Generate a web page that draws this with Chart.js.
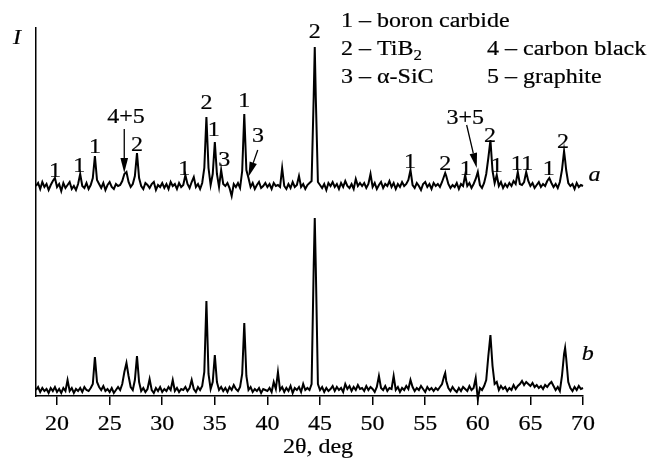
<!DOCTYPE html>
<html>
<head>
<meta charset="utf-8">
<script src="https://cdn.jsdelivr.net/npm/chart.js@4/dist/chart.umd.min.js"></script>
<style>
html,body{margin:0;padding:0;background:#fff;}
canvas{display:block;}
</style>
</head>
<body>
<canvas id="c" width="654" height="461"></canvas>
<script>
// 2θ sample positions (deg)
const theta = [
18.0,18.2,18.4,18.6,18.8, 19.0,19.2,19.4,19.6,19.8,
20.0,20.2,20.4,20.6,20.8, 21.0,21.2,21.4,21.6,21.8,
22.0,22.2,22.4,22.6,22.8, 23.0,23.2,23.4,23.6,23.8,
24.0,24.2,24.4,24.6,24.8, 25.0,25.2,25.4,25.6,25.8,
26.0,26.2,26.4,26.6,26.8, 27.0,27.2,27.4,27.6,27.8,
28.0,28.2,28.4,28.6,28.8, 29.0,29.2,29.4,29.6,29.8,
30.0,30.2,30.4,30.6,30.8, 31.0,31.2,31.4,31.6,31.8,
32.0,32.2,32.4,32.6,32.8, 33.0,33.2,33.4,33.6,33.8,
34.0,34.2,34.4,34.6,34.8, 35.0,35.2,35.4,35.6,35.8,
36.0,36.2,36.4,36.6,36.8, 37.0,37.2,37.4,37.6,37.8,
38.0,38.2,38.4,38.6,38.8, 39.0,39.2,39.4,39.6,39.8,
40.0,40.2,40.4,40.6,40.8, 41.0,41.2,41.4,41.6,41.8,
42.0,42.2,42.4,42.6,42.8, 43.0,43.2,43.4,43.6,43.8,
44.0,44.2,44.4,44.5,44.6,44.8, 45.0,45.2,45.4,45.6,45.8,
46.0,46.2,46.4,46.6,46.8, 47.0,47.2,47.4,47.6,47.8,
48.0,48.2,48.4,48.6,48.8, 49.0,49.2,49.4,49.6,49.8,
50.0,50.2,50.4,50.6,50.8, 51.0,51.2,51.4,51.6,51.8,
52.0,52.2,52.4,52.6,52.8, 53.0,53.2,53.4,53.6,53.8,
54.0,54.2,54.4,54.6,54.8, 55.0,55.2,55.4,55.6,55.8,
56.0,56.2,56.4,56.6,56.8,56.9, 57.0,57.2,57.4,57.6,57.8,
58.0,58.2,58.4,58.6,58.8, 59.0,59.2,59.4,59.6,59.8,
60.0,60.2,60.4,60.6,60.8, 61.0,61.2,61.4,61.6,61.8,
62.0,62.2,62.4,62.6,62.8, 63.0,63.2,63.4,63.6,63.8,
64.0,64.2,64.4,64.6,64.8, 65.0,65.2,65.4,65.6,65.8,
66.0,66.2,66.4,66.6,66.8, 67.0,67.2,67.4,67.6,67.8,
68.0,68.2,68.3,68.4,68.6,68.8, 69.0,69.2,69.4,69.6,69.8,
70.0
];

// pattern a (intensity, arbitrary units, curve shifted up)
const intensityA = [
210,213,207,214,209, 212,206,211,215,218,
209,212,205,213,208, 211,214,207,210,206,
212,222,210,208,213, 207,211,218,240,216,
212,208,213,206,211, 214,209,207,212,210,
211,215,222,224,214, 209,212,220,243,218,
210,207,213,211,208, 212,214,206,211,209,
213,208,212,207,214, 210,212,207,213,209,
211,221,212,208,214, 219,209,212,207,213,
228,279,228,211,222, 254,222,209,226,212,
210,213,208,200,212, 209,213,208,225,282,
226,218,209,213,207, 211,214,208,210,213,
209,212,207,213,210, 211,209,228,210,207,
212,208,214,209,211, 220,209,212,207,211,
213,215,300,349,298,214, 211,208,212,206,213,
210,214,209,212,207, 213,209,215,210,208,
212,207,217,210,213, 210,213,208,212,222,
209,213,207,211,214, 208,212,210,215,209,
213,207,212,209,214, 210,212,216,226,211,
208,213,210,206,212, 214,209,212,207,213,
210,212,209,214,220,223, 220,212,208,211,209,
213,207,212,210,221, 210,213,208,212,217,
224,211,208,213,222, 238,256,225,213,221,
210,214,208,212,209, 213,210,215,212,224,
212,211,214,224,215, 210,213,208,211,214,
209,212,210,215,218, 213,209,212,208,214,
226,245,236,226,213,210, 212,207,213,209,211,
210
];

// pattern b (intensity, arbitrary units)
const intensityB = [
6,9,4,8,5, 7,3,8,5,9,
4,7,3,8,5, 16,5,8,3,7,
5,8,4,9,6, 5,8,12,39,14,
9,6,10,5,7, 4,8,3,6,9,
6,12,24,33,20, 9,6,16,40,14,
5,8,4,7,17, 6,3,8,5,9,
4,7,5,9,6, 16,5,8,4,7,
6,9,5,8,16, 7,4,9,6,10,
24,95,22,7,14, 41,14,6,9,5,
8,4,9,6,11, 7,5,9,22,73,
20,6,9,4,7, 5,8,3,7,6,
5,8,4,14,7, 24,6,9,4,8,
5,10,3,8,6, 9,4,12,6,8,
6,12,130,178,128,12, 6,9,4,8,5,
7,10,5,9,6, 8,4,12,7,10,
5,9,6,11,7, 8,5,10,6,9,
7,4,9,20,8, 6,10,5,8,7,
20,6,9,4,8, 6,10,7,16,9,
5,8,6,10,7, 4,9,6,8,5,
8,6,9,12,20,23, 15,8,5,9,6,
4,8,5,9,7, 5,10,6,8,18,
-3,8,6,10,16, 40,61,30,12,14,
6,10,7,9,5, 8,6,11,7,10,
12,15,11,14,12, 10,13,9,11,8,
10,7,11,9,12, 14,10,6,9,5,
20,42,48,38,14,8, 5,9,6,10,7,
8
];

const tickValues = [20,25,30,35,40,45,50,55,60,65,70];

// peak phase labels: [text, 2θ, intensity level]
const peakLabels = [
['1',19.8,224],['1',22.1,229],['1',23.6,248],['4+5',26.55,278],['2',27.6,250],
['1',32.1,226],['2',34.2,292],['1',34.9,265],['3',35.9,235],['1',37.8,294],
['3',39.1,259],['2',44.5,363],['1',53.55,233],['2',56.9,231],['1',58.85,226],
['3+5',58.8,277],['2',61.15,259],['1',61.8,229],['1',63.7,231],['1',64.7,231],
['1',66.75,226],['2',68.1,253]
];
// arrows: [from 2θ, from level, to 2θ, to level]
const arrows = [[26.39,267,26.39,223],[39.08,246,38.18,219],[58.94,271,59.9,228]];
// curve names: [text, 2θ, level]
const curveNames = [['a',71.1,220],['b',70.45,41]];

const STRETCH = 1.2;
const FONT = '20px "Liberation Serif", "Times New Roman", serif';
const IFONT = 'italic 20px "Liberation Serif", "Times New Roman", serif';

function drawText(ctx, s, x, y, font, align, baseline){
  ctx.save();
  ctx.translate(x, y);
  ctx.scale(STRETCH, 1);
  ctx.font = font;
  ctx.fillStyle = '#000';
  ctx.strokeStyle = '#000';
  ctx.lineWidth = 0.2;
  ctx.textAlign = align || 'center';
  ctx.textBaseline = baseline || 'middle';
  ctx.fillText(s, 0, 0);
  ctx.strokeText(s, 0, 0);
  ctx.restore();
}
function textWidth(ctx, s, font){
  ctx.save(); ctx.font = font; const w = ctx.measureText(s).width; ctx.restore();
  return w * STRETCH;
}

const annot = {
  id: 'annot',
  afterDraw(chart){
    const ctx = chart.ctx;
    const xs = chart.scales.x, ys = chart.scales.y;
    const ca = chart.chartArea;
    // tick labels
    tickValues.forEach(v => drawText(ctx, String(v), xs.getPixelForValue(v), ca.bottom + 29, FONT));
    // axis title
    drawText(ctx, '2θ, deg', 318, ca.bottom + 52, FONT);
    // y label
    drawText(ctx, 'I', ca.left - 19, ca.top + 11, IFONT);
    // peak labels
    peakLabels.forEach(([t, a, v]) => drawText(ctx, t, xs.getPixelForValue(a), ys.getPixelForValue(v), FONT));
    curveNames.forEach(([t, a, v]) => drawText(ctx, t, xs.getPixelForValue(a), ys.getPixelForValue(v), IFONT));
    // arrows
    ctx.save();
    ctx.strokeStyle = '#000'; ctx.fillStyle = '#000'; ctx.lineWidth = 1.3;
    arrows.forEach(([a1, v1, a2, v2]) => {
      const x1 = xs.getPixelForValue(a1), y1 = ys.getPixelForValue(v1);
      const x2 = xs.getPixelForValue(a2), y2 = ys.getPixelForValue(v2);
      const ang = Math.atan2(y2 - y1, x2 - x1);
      const L = 15, W = 3.8;
      const bx = x2 - L * Math.cos(ang), by = y2 - L * Math.sin(ang);
      ctx.beginPath(); ctx.moveTo(x1, y1); ctx.lineTo(bx, by); ctx.stroke();
      ctx.beginPath();
      ctx.moveTo(x2, y2);
      ctx.lineTo(bx + W * Math.sin(ang), by - W * Math.cos(ang));
      ctx.lineTo(bx - W * Math.sin(ang), by + W * Math.cos(ang));
      ctx.closePath(); ctx.fill();
    });
    ctx.restore();
    // legend (key of phases)
    const lx1 = 341, lx2 = 487, by1 = 27, dy = 28;
    drawText(ctx, '1 – boron carbide', lx1, by1, FONT, 'left', 'alphabetic');
    drawText(ctx, '2 – TiB', lx1, by1 + dy, FONT, 'left', 'alphabetic');
    const w = textWidth(ctx, '2 – TiB', FONT);
    drawText(ctx, '2', lx1 + w, by1 + dy + 5, '14px "Liberation Serif", serif', 'left', 'alphabetic');
    drawText(ctx, '3 – α-SiC', lx1, by1 + 2 * dy, FONT, 'left', 'alphabetic');
    drawText(ctx, '4 – carbon black', lx2, by1 + dy, FONT, 'left', 'alphabetic');
    drawText(ctx, '5 – graphite', lx2, by1 + 2 * dy, FONT, 'left', 'alphabetic');
  }
};

const ptsA = theta.map((t, i) => ({x: t, y: intensityA[i]}));
const ptsB = theta.map((t, i) => ({x: t, y: intensityB[i]}));

new Chart(document.getElementById('c').getContext('2d'), {
  type: 'line',
  data: {
    datasets: [
      {label: 'a', data: ptsA, borderColor: '#000', borderWidth: 2, pointRadius: 0, tension: 0, fill: false, clip: 10},
      {label: 'b', data: ptsB, borderColor: '#000', borderWidth: 2, pointRadius: 0, tension: 0, fill: false, clip: 10}
    ]
  },
  options: {
    responsive: false,
    animation: false,
    devicePixelRatio: 1,
    layout: {padding: {left: 36, right: 71, top: 28, bottom: 0}},
    plugins: {legend: {display: false}, tooltip: {enabled: false}},
    scales: {
      x: {
        type: 'linear', min: 18, max: 70,
        afterBuildTicks: s => { s.ticks = tickValues.map(v => ({value: v})); },
        afterFit: s => { s.height = 65; },
        grid: {display: true, drawOnChartArea: false, drawTicks: true, tickLength: 9, color: '#000', lineWidth: 1.5},
        border: {display: true, color: '#000', width: 1.5},
        ticks: {display: false}
      },
      y: {
        min: 0, max: 368,
        afterFit: s => { s.width = 0; },
        grid: {display: false},
        border: {display: true, color: '#000', width: 1.5},
        ticks: {display: false}
      }
    }
  },
  plugins: [annot]
});
</script>
</body>
</html>
